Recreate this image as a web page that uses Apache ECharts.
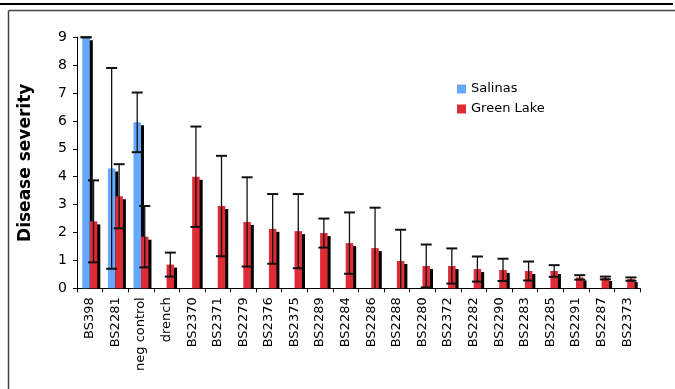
<!DOCTYPE html>
<html>
<head>
<meta charset="utf-8">
<script src="https://cdn.jsdelivr.net/npm/echarts@6/dist/echarts.min.js"></script>
<style>
  html, body { margin: 0; padding: 0; background: #fff; }
  #chart { width: 675px; height: 389px; }
</style>
</head>
<body>
<div id="chart"></div>
<script>
// Isolates tested, in plotting order
const categories = ['BS398', 'BS2281', 'neg control', 'drench', 'BS2370', 'BS2371', 'BS2279',
  'BS2376', 'BS2375', 'BS2289', 'BS2284', 'BS2286', 'BS2288', 'BS2280', 'BS2372', 'BS2282',
  'BS2290', 'BS2283', 'BS2285', 'BS2291', 'BS2287', 'BS2373'];

// Mean disease severity and error (+/-) per site
const salinas = [9.0, 4.3, 5.95, null, null, null, null, null, null, null, null,
  null, null, null, null, null, null, null, null, null, null, null];
const salinasErr = [0, 3.6, 1.07, null, null, null, null, null, null, null, null,
  null, null, null, null, null, null, null, null, null, null, null];
const greenLake = [2.4, 3.3, 1.85, 0.85, 4.0, 2.95, 2.38, 2.13, 2.05, 1.98, 1.62,
  1.44, 0.98, 0.8, 0.8, 0.69, 0.66, 0.62, 0.62, 0.39, 0.37, 0.33];
const greenLakeErr = [1.47, 1.15, 1.1, 0.43, 1.8, 1.8, 1.6, 1.25, 1.33, 0.52, 1.1,
  1.45, 1.12, 0.77, 0.63, 0.45, 0.4, 0.34, 0.21, 0.08, 0.05, 0.06];

const yTicks = [0, 1, 2, 3, 4, 5, 6, 7, 8, 9];

const FONT = 'DejaVu Sans';
const BAR_W = 7.5;
const BLUE = '#64A9FF';
const RED = '#DE2B35';

// [categoryIndex, value, error] rows for the custom layers
function rows(values, errs) {
  const out = [];
  values.forEach((v, i) => {
    if (v !== null) out.push([i, v, errs ? errs[i] : 0]);
  });
  return out;
}

// Bar with a hard black drop shadow (3px right, 3px down), clipped at the baseline.
// offset: -1 for the left bar of a pair, 0 for the right one
function barSeries(name, values, color, offset, z) {
  return {
    name: name,
    type: 'custom',
    z: z,
    itemStyle: { color: color },
    data: rows(values),
    encode: { x: 0, y: 1 },
    renderItem: function (params, api) {
      const top = api.coord([api.value(0), api.value(1)]);
      const base = api.coord([api.value(0), 0]);
      const x = top[0] + offset * BAR_W;
      const sy = top[1] + 3;
      return {
        type: 'group',
        children: [
          { type: 'rect',
            shape: { x: x + 3, y: sy, width: BAR_W, height: Math.max(0, base[1] - sy) },
            style: { fill: '#000' } },
          { type: 'rect',
            shape: { x: x, y: top[1], width: BAR_W, height: base[1] - top[1] },
            style: { fill: color } }
        ]
      };
    }
  };
}

function errorSeries(values, errs, offset) {
  return {
    type: 'custom',
    z: 6,
    silent: true,
    data: rows(values, errs),
    encode: { x: 0, y: 1 },
    renderItem: function (params, api) {
      const i = api.value(0), v = api.value(1), e = api.value(2);
      const hi = api.coord([i, v + e]);
      const lowVal = v - e;
      const lo = api.coord([i, Math.max(0, lowVal)]);
      const cx = hi[0] + offset * BAR_W + BAR_W / 2;
      const half = 5.5;
      const children = [
        { type: 'line', shape: { x1: cx, y1: hi[1], x2: cx, y2: lo[1] },
          style: { stroke: '#111', lineWidth: 1.3 } },
        { type: 'line', shape: { x1: cx - half, y1: hi[1], x2: cx + half, y2: hi[1] },
          style: { stroke: '#111', lineWidth: 2 } }
      ];
      if (lowVal >= 0) {
        children.push({ type: 'line', shape: { x1: cx - half, y1: lo[1], x2: cx + half, y2: lo[1] },
          style: { stroke: '#111', lineWidth: 2 } });
      }
      return { type: 'group', children: children };
    }
  };
}

const chart = echarts.init(document.getElementById('chart'), null, { renderer: 'canvas' });

chart.setOption({
  animation: false,
  backgroundColor: '#fff',
  textStyle: { fontFamily: FONT },
  grid: { left: 77, right: 35, top: 37.3, bottom: 100.7, containLabel: false },
  legend: {
    orient: 'vertical',
    left: 457,
    top: 81,
    padding: 0,
    itemWidth: 9,
    itemHeight: 9,
    itemGap: 4,
    icon: 'rect',
    data: ['Salinas', 'Green Lake'],
    textStyle: { fontFamily: FONT, fontSize: 13, color: '#000', lineHeight: 16 }
  },
  xAxis: {
    type: 'category',
    data: categories,
    boundaryGap: true,
    axisLine: { lineStyle: { color: '#000', width: 1 } },
    axisTick: { show: true, interval: 0, length: 4, lineStyle: { color: '#000' } },
    axisLabel: { interval: 0, rotate: 90, margin: 9, fontSize: 13, color: '#000', fontFamily: FONT },
    splitLine: { show: false }
  },
  yAxis: {
    type: 'value',
    min: yTicks[0],
    max: yTicks[yTicks.length - 1],
    interval: 1,
    name: 'Disease severity',
    nameLocation: 'middle',
    nameGap: 43,
    nameTextStyle: { fontFamily: FONT, fontSize: 17, fontWeight: 'bold', color: '#000' },
    axisLine: { show: true, lineStyle: { color: '#000', width: 1 } },
    axisTick: { show: true, length: 4, lineStyle: { color: '#000' } },
    axisLabel: { margin: 10, fontSize: 14, color: '#000', fontFamily: FONT },
    splitLine: { show: false }
  },
  graphic: [
    { type: 'line', shape: { x1: 0, y1: 4, x2: 673, y2: 4 }, style: { stroke: '#000', lineWidth: 2 }, z: 100 },
    { type: 'line', shape: { x1: 8.5, y1: 10.5, x2: 675, y2: 10.5 }, style: { stroke: '#444', lineWidth: 1.5 }, z: 100 },
    { type: 'line', shape: { x1: 8.5, y1: 10.5, x2: 8.5, y2: 389 }, style: { stroke: '#444', lineWidth: 1.5 }, z: 100 }
  ],
  series: [
    barSeries('Salinas', salinas, BLUE, -1, 2),
    barSeries('Green Lake', greenLake, RED, 0, 3),
    errorSeries(salinas, salinasErr, -1),
    errorSeries(greenLake, greenLakeErr, 0)
  ]
});
</script>
</body>
</html>
